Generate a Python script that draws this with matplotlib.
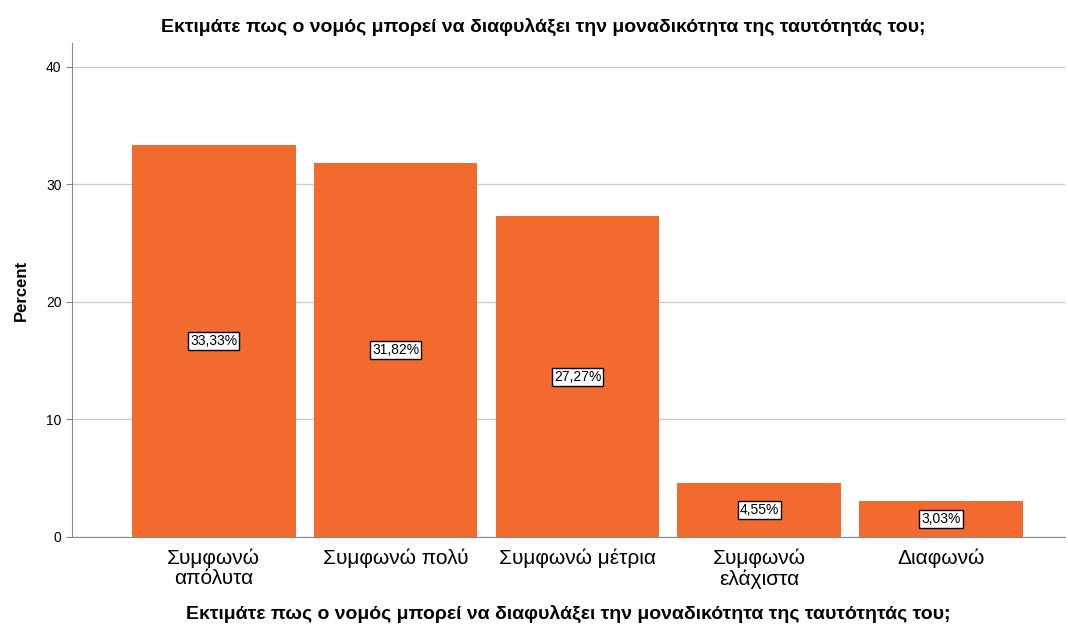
import matplotlib
matplotlib.use('Agg')
import matplotlib.pyplot as plt

plt.rcParams['font.family'] = ['Liberation Sans', 'DejaVu Sans']

# -------------------------------------------------------------------------
# data
# -------------------------------------------------------------------------
CATEGORIES = ['Συμφωνώ\nαπόλυτα', 'Συμφωνώ πολύ', 'Συμφωνώ μέτρια',
              'Συμφωνώ\nελάχιστα', 'Διαφωνώ']
PERCENTS = [33.33, 31.82, 27.27, 4.55, 3.03]
LABELS = ['33,33%', '31,82%', '27,27%', '4,55%', '3,03%']
YTICKS = [0, 10, 20, 30, 40]

TITLE = 'Εκτιμάτε πως ο νομός μπορεί να διαφυλάξει την μοναδικότητα της ταυτότητάς του;'
BAR_COLOR = '#f26a2d'

fig = plt.figure(figsize=(10.68, 6.29), dpi=100)
ax = fig.add_axes([0.0674, 0.1463, 0.9296, 0.7853])

x = list(range(len(CATEGORIES)))
ax.bar(x, PERCENTS, width=0.9, color=BAR_COLOR, zorder=2)

for xi, val, lab in zip(x, PERCENTS, LABELS):
    ax.text(xi, val / 2, lab, ha='center', va='center', fontsize=10,
            bbox=dict(boxstyle='square,pad=0.15', fc='white', ec='black', lw=1),
            zorder=3)

ax.set_xlim(-0.78, 4.68)
ax.set_ylim(0, 42)
ax.set_yticks(YTICKS)
ax.set_xticks(x)
ax.set_xticklabels(CATEGORIES, fontsize=15, linespacing=1.1)
ax.tick_params(axis='y', labelsize=10, length=4, color='#888888')
ax.tick_params(axis='x', length=0, pad=8)
ax.yaxis.grid(True, color='#cccccc', lw=1, zorder=0)
ax.set_axisbelow(True)

for side in ['top', 'right']:
    ax.spines[side].set_visible(False)
for side in ['left', 'bottom']:
    ax.spines[side].set_color('#888888')

ax.set_ylabel('Percent', fontsize=12, fontweight='bold', labelpad=12)
ax.set_xlabel(TITLE, fontsize=14, fontweight='bold', labelpad=12)
fig.text(0.509, 0.957, TITLE, ha='center', va='center', fontsize=14, fontweight='bold')

plt.savefig('out.png', dpi=100)
plt.close()
